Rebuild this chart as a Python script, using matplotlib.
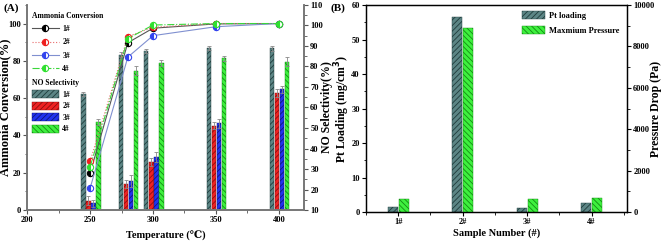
import matplotlib
matplotlib.use('Agg')
import matplotlib.pyplot as plt
import numpy as np
from matplotlib.ticker import MultipleLocator

plt.rcParams['font.family'] = ['Liberation Serif', 'DejaVu Serif']
plt.rcParams['font.weight'] = 'bold'
plt.rcParams['axes.labelweight'] = 'bold'
plt.rcParams['hatch.linewidth'] = 0.6

# ---- panel A data ----
temps = [250, 280, 300, 350, 400]
samples = ['1#', '2#', '3#', '4#']
conv_1 = [19.8, 89.7, 97.5, 99.8, 100.0]
conv_2 = [26.1, 93.0, 98.0, 100.0, 100.0]
conv_3 = [11.7, 82.0, 93.5, 98.3, 100.0]
conv_4 = [23.1, 91.9, 99.2, 100.0, 100.0]
sel_1 = [66.5, 85.8, 87.5, 88.8, 88.9]
sel_2 = [14.5, 22.7, 33.5, 51.2, 66.9]
sel_3 = [13.3, 24.1, 35.9, 52.2, 68.8]
sel_4 = [53.1, 78.0, 81.5, 83.9, 82.2]
sel_err_1 = [1.0, 1.2, 1.0, 1.0, 1.2]
sel_err_2 = [2.2, 2.0, 2.0, 1.8, 2.0]
sel_err_3 = [1.8, 3.0, 2.5, 2.0, 1.8]
sel_err_4 = [1.5, 2.0, 1.5, 1.4, 2.2]

# ---- panel B data ----
sample_labels = ['1#', '2#', '3#', '4#']
pt_loading = [1.5, 56.5, 1.1, 2.6]
max_pressure = [630, 8870, 615, 665]

fig = plt.figure(figsize=(6.63, 2.44), dpi=100)

# ================= (A) =================
ax = fig.add_axes([0.041, 0.139, 0.4175, 0.841])
ax2 = ax.twinx()
ax.set_zorder(ax2.get_zorder() + 1)
ax.patch.set_visible(False)

bar_w = 3.8
offs = [-5.5, -1.5, 2.5, 6.5]
bar_styles = [
    ('#5c8585', '#1f3b3b', '//////'),
    ('#ee2222', '#8a0f0f', '//////'),
    ('#2233ee', '#10187a', '//////'),
    ('#3ef03e', '#128a12', '\\\\\\\\\\\\'),
]
sels = [sel_1, sel_2, sel_3, sel_4]
errs = [sel_err_1, sel_err_2, sel_err_3, sel_err_4]
bar_handles = []
for k in range(4):
    x = np.array(temps) + offs[k]
    fc, ec, h = bar_styles[k]
    b = ax2.bar(x, np.array(sels[k]) - 10, bottom=10, width=bar_w, color=fc,
                edgecolor=ec, hatch=h, linewidth=0.3, label=samples[k])
    ax2.errorbar(x, sels[k], yerr=errs[k], fmt='none', ecolor='#888888',
                 elinewidth=0.6, capsize=1.2, capthick=0.6)
    bar_handles.append(b)

line_styles = [
    ('#555555', '-', 'black'),
    ('#e86a6a', ':', '#ee2020'),
    ('#8090d0', '-', '#3344ee'),
    ('#3ad63a', '-.', '#30e030'),
]
convs = [conv_1, conv_2, conv_3, conv_4]
line_handles = []
for k in range(4):
    lc, ls, mc = line_styles[k]
    l, = ax.plot(temps, convs[k], color=lc, linestyle=ls, linewidth=0.8,
                 marker='o', markersize=4.5, markerfacecolor=mc,
                 markerfacecoloralt='white', fillstyle='left',
                 markeredgecolor=mc, markeredgewidth=0.8, label=samples[k])
    line_handles.append(l)

ax.set_xlim(200, 420)
ax.set_ylim(0, 110)
ax2.set_ylim(10, 110)
ax.xaxis.set_major_locator(MultipleLocator(50))
ax.xaxis.set_minor_locator(MultipleLocator(25))
ax.yaxis.set_major_locator(MultipleLocator(20))
ax.yaxis.set_minor_locator(MultipleLocator(10))
ax2.yaxis.set_major_locator(MultipleLocator(10))
ax2.yaxis.set_minor_locator(MultipleLocator(5))

for a in (ax, ax2):
    for s in a.spines.values():
        s.set_color('#777777')
        s.set_linewidth(1.2)
    a.spines['top'].set_visible(False)
    a.tick_params(which='both', labelsize=6, direction='out', color='#555555', pad=1.5)
    a.tick_params(which='major', length=3, width=0.8)
    a.tick_params(which='minor', length=1.8, width=0.6)

ax.set_xlabel('Temperature (℃)', fontsize=7.5)
ax.xaxis.set_label_coords(0.5, -0.1)
ax.set_ylabel('Ammonia Conversion(%)', fontsize=9)
ax.yaxis.set_label_coords(-0.058, 0.5)
ax2.set_ylabel('NO Selectivity(%)', fontsize=8.5)
ax2.yaxis.set_label_coords(1.062, 0.5)

leg1 = ax.legend(handles=line_handles, title='Ammonia Conversion', loc='upper left',
                 bbox_to_anchor=(0.0, 0.99), frameon=False, fontsize=5.5,
                 title_fontproperties={'weight': 'bold', 'size': 5.5},
                 handlelength=3.5, labelspacing=0.7, borderaxespad=0.2,
                 alignment='left', handletextpad=0.5)
ax.add_artist(leg1)
ax.legend(handles=bar_handles, title='NO Selectivity', loc='upper left',
          bbox_to_anchor=(0.0, 0.66), frameon=False, fontsize=5.5,
          title_fontproperties={'weight': 'bold', 'size': 5.5},
          handlelength=3.5, handleheight=1.2, labelspacing=0.4,
          borderaxespad=0.2, alignment='left', handletextpad=0.5)

fig.text(0.005, 0.965, '(A)', fontsize=8, fontweight='bold', va='center')

# ================= (B) =================
bx = fig.add_axes([0.552, 0.131, 0.3937, 0.8485])
bx2 = bx.twinx()
xs = np.arange(1, len(sample_labels) + 1)
bw = 0.155
hb1 = bx.bar(xs - 0.085, pt_loading, width=bw, color='#5c8585', edgecolor='#1f3b3b',
             hatch='//////', linewidth=0.3, label='Pt loading')
hb2 = bx2.bar(xs + 0.085, max_pressure, width=bw, color='#3ef03e', edgecolor='#128a12',
              hatch='\\\\\\\\\\\\', linewidth=0.3, label='Maxmium Pressure')

bx.set_xlim(0.5, 4.55)
bx.set_ylim(0, 60)
bx2.set_ylim(0, 10000)
bx.set_xticks(xs)
bx.set_xticklabels(sample_labels)
bx.xaxis.set_minor_locator(MultipleLocator(0.5))
bx.yaxis.set_major_locator(MultipleLocator(10))
bx.yaxis.set_minor_locator(MultipleLocator(5))
bx2.yaxis.set_major_locator(MultipleLocator(2000))
bx2.yaxis.set_minor_locator(MultipleLocator(1000))
for a in (bx, bx2):
    for s in a.spines.values():
        s.set_color('black')
        s.set_linewidth(0.9)
    a.tick_params(which='both', labelsize=6, direction='out', pad=1.5)
    a.tick_params(which='major', length=3, width=0.8)
    a.tick_params(which='minor', length=1.8, width=0.6)

bx.set_xlabel('Sample Number (#)', fontsize=7.5)
bx.xaxis.set_label_coords(0.5, -0.077)
bx.set_ylabel(r'Pt Loading (mg/cm$^\mathbf{3}$)', fontsize=8.5)
bx.yaxis.set_label_coords(-0.052, 0.5)
bx2.set_ylabel('Pressure Drop (Pa)', fontsize=8.5)
bx2.yaxis.set_label_coords(1.09, 0.5)
bx2.legend(handles=[hb1, hb2], loc='upper left', bbox_to_anchor=(0.585, 0.985),
           frameon=False, fontsize=6, handlelength=2.8, handleheight=1.1,
           labelspacing=0.7, handletextpad=0.4, borderaxespad=0)

fig.text(0.498, 0.965, '(B)', fontsize=8, fontweight='bold', va='center')

fig.savefig('out.png', dpi=100)
